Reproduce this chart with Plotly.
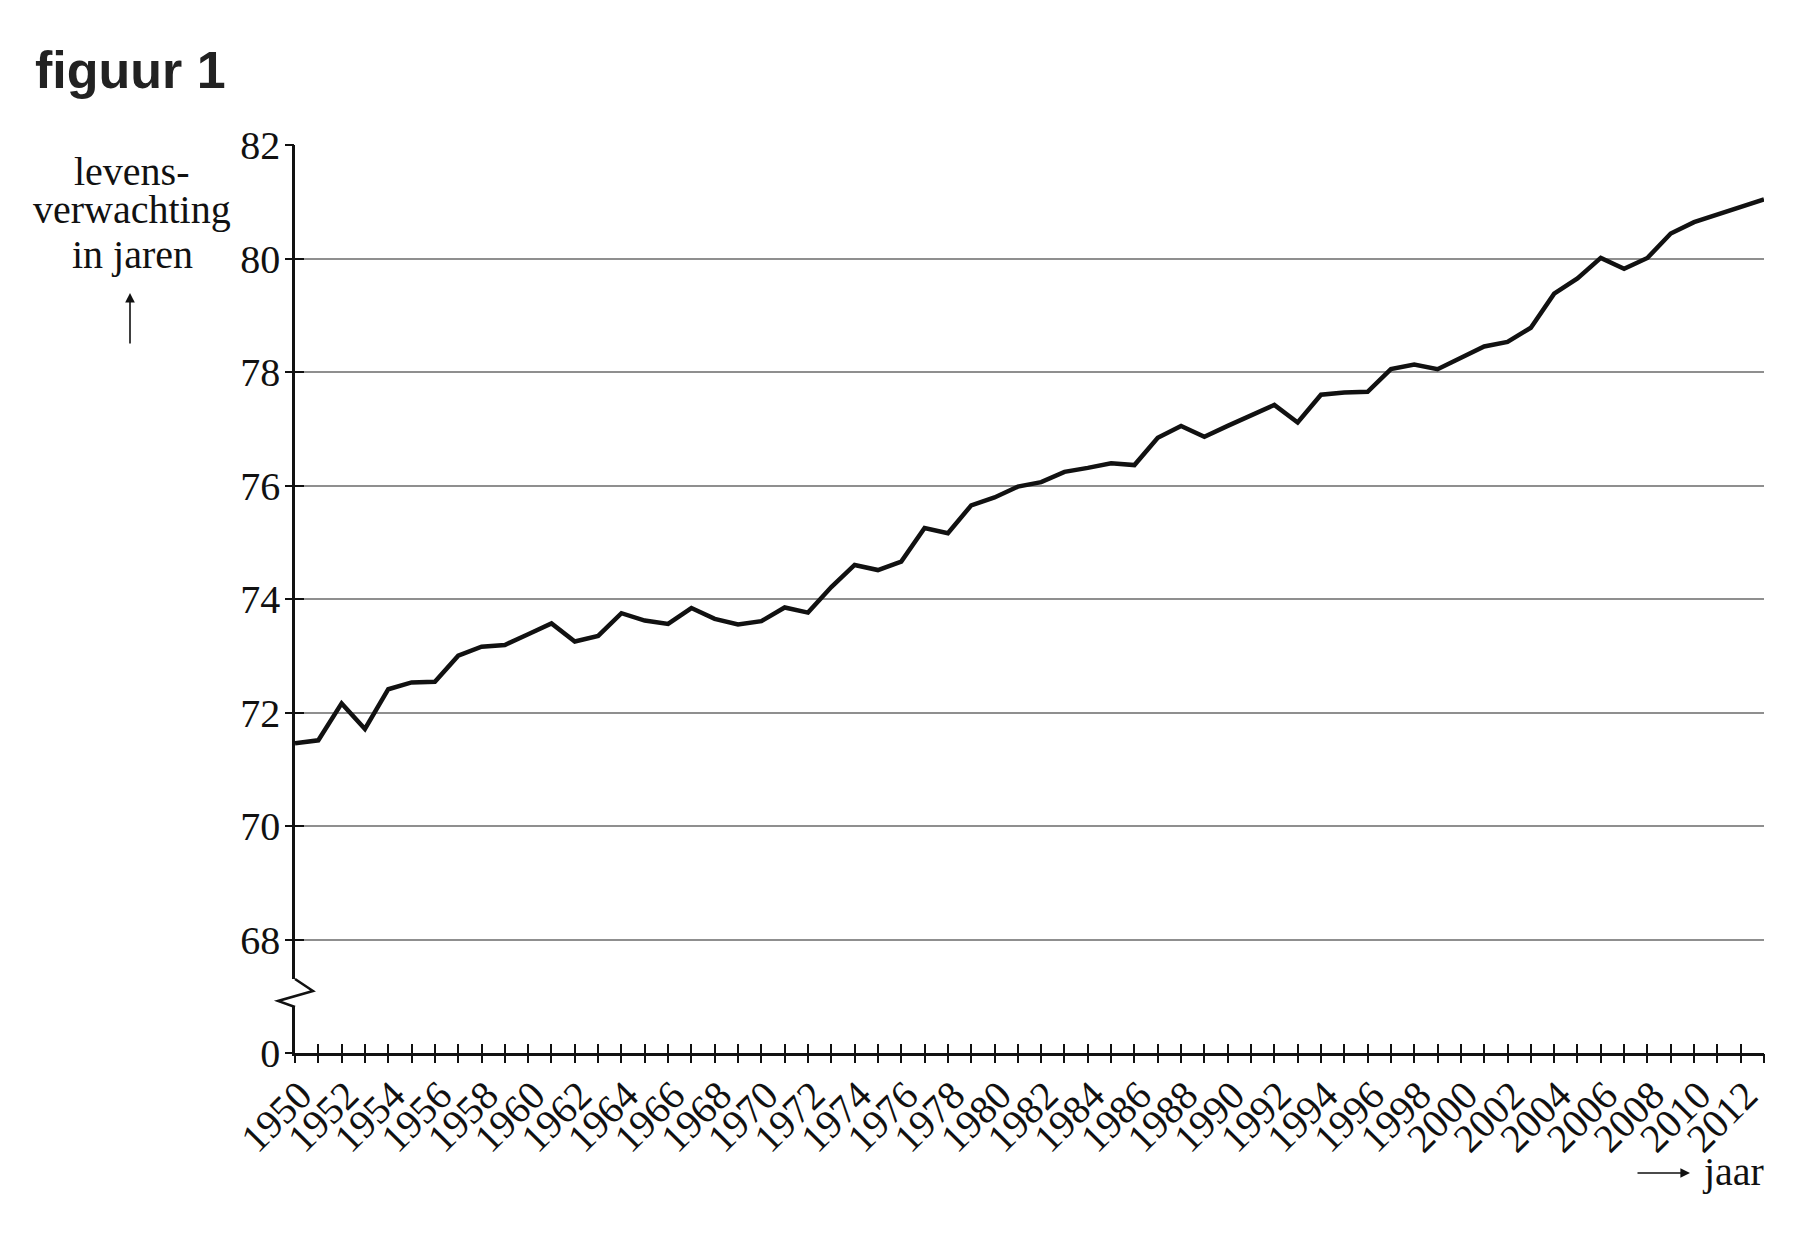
import plotly.graph_objects as go

years = list(range(1950, 2014))
life_expectancy = [
    71.46, 71.51, 72.16, 71.71, 72.41, 72.53, 72.54, 73.00, 73.16, 73.19,
    73.38, 73.57, 73.25, 73.35, 73.75, 73.62, 73.56, 73.84, 73.65, 73.55,
    73.61, 73.85, 73.76, 74.21, 74.60, 74.51, 74.66, 75.25, 75.16, 75.65,
    75.79, 75.98, 76.06, 76.24, 76.31, 76.39, 76.36, 76.84, 77.05, 76.86,
    77.05, 77.23, 77.42, 77.11, 77.60, 77.64, 77.65, 78.05, 78.13, 78.05,
    78.24, 78.45, 78.53, 78.78, 79.38, 79.65, 80.01, 79.82, 80.01, 80.44,
    80.64, 80.78, 80.91, 81.04,
]
x_labels = [str(y) if y % 2 == 0 and y <= 2012 else '' for y in years]

# y-as met onderbreking: 0 staat net onder 68
y_break_pos = 66.0
y_tickvals = [y_break_pos, 68, 70, 72, 74, 76, 78, 80, 82]
y_ticktext = ['0', '68', '70', '72', '74', '76', '78', '80', '82']

# de pagina heeft 8px body-marge; alles hieronder in paginapixels
OFF = 8
PAGE_W, PAGE_H = 1802, 1252
W, H = PAGE_W - OFF, PAGE_H - OFF
L, R, T, B = 295, 1764, 145, 1053


def px(x):
    return (x - L) / (R - L)


def py(y):
    return (B - y) / (B - T)


SERIF = 'Liberation Serif, Times New Roman, serif'
fs = 40
INK = '#111111'

fig = go.Figure()
fig.add_trace(go.Scatter(x=years, y=life_expectancy, mode='lines', line=dict(color=INK, width=4.5), hoverinfo='skip', showlegend=False))
# onzichtbare trace voor de overlay-assen (ticks aan beide kanten van de as)
fig.add_trace(go.Scatter(x=years, y=life_expectancy, xaxis='x2', yaxis='y2', mode='lines', line=dict(width=0), opacity=0, hoverinfo='skip', showlegend=False))

xrange = [1950, 2013]
yrange = [y_break_pos, 82]

fig.update_layout(
    width=W, height=H,
    margin=dict(l=L - OFF, r=PAGE_W - R, t=T - OFF, b=PAGE_H - B),
    paper_bgcolor='white', plot_bgcolor='white',
    font=dict(family=SERIF, size=fs, color=INK),
    xaxis=dict(
        range=xrange, tickmode='array', tickvals=years, ticktext=x_labels, tickangle=-45,
        ticks='inside', ticklen=9, tickwidth=2, tickcolor=INK, ticklabelstandoff=0, ticklabelshift=5,
        showline=True, linecolor=INK, linewidth=2.5,
        showgrid=False, zeroline=False, tickfont=dict(family=SERIF, size=fs),
    ),
    xaxis2=dict(
        range=xrange, overlaying='x', anchor='y', side='bottom', tickmode='array', tickvals=years,
        ticks='outside', ticklen=9, tickwidth=2, tickcolor=INK,
        showticklabels=False, showgrid=False, zeroline=False, showline=False,
    ),
    yaxis=dict(
        range=yrange, tickmode='array', tickvals=y_tickvals, ticktext=y_ticktext,
        ticks='inside', ticklen=9, tickwidth=2, tickcolor=INK, ticklabelstandoff=4,
        showline=True, linecolor=INK, linewidth=2.5,
        showgrid=True, gridcolor='#8f8f8f', gridwidth=1.5, zeroline=False,
        tickfont=dict(family=SERIF, size=fs),
    ),
    yaxis2=dict(
        range=yrange, overlaying='y', anchor='x', side='left', tickmode='array', tickvals=y_tickvals,
        ticks='outside', ticklen=9, tickwidth=2, tickcolor=INK,
        showticklabels=False, showgrid=False, zeroline=False, showline=False,
    ),
)

# onderbrekingsteken op de y-as
fig.add_shape(type='line', xref='paper', yref='paper', x0=px(295), x1=px(295), y0=py(979), y1=py(1007),
              line=dict(color='white', width=6), layer='above')
zig = [(295, 979), (313, 991), (278, 1001), (295, 1007)]
path = 'M ' + ' L '.join(f'{px(a):.5f},{py(b):.5f}' for a, b in zig)
fig.add_shape(type='path', xref='paper', yref='paper', path=path, line=dict(color=INK, width=2.5), layer='above')

fig.add_annotation(text='<b>figuur 1</b>', xref='paper', yref='paper', x=px(33), y=py(70), xanchor='left', yanchor='middle',
                   showarrow=False, font=dict(family='Liberation Sans, Arial, sans-serif', size=52, color='#222222'))
for line, ymid in [('levens-', 171), ('verwachting', 210), ('in jaren', 254)]:
    fig.add_annotation(text=line, xref='paper', yref='paper', x=px(132), y=py(ymid),
                       xanchor='center', yanchor='middle', showarrow=False, font=dict(family=SERIF, size=fs))
fig.add_annotation(text='', xref='paper', yref='paper', x=px(130), y=py(293), ax=0, ay=52,
                   showarrow=True, arrowhead=2, arrowsize=1.2, arrowwidth=1.6, arrowcolor=INK)
fig.add_annotation(text='jaar', xref='paper', yref='paper', x=px(1766), y=py(1171), xanchor='right', yanchor='middle',
                   showarrow=False, font=dict(family=SERIF, size=fs))
fig.add_annotation(text='', xref='paper', yref='paper', x=px(1690), y=py(1173), ax=-54, ay=0,
                   showarrow=True, arrowhead=2, arrowsize=1.2, arrowwidth=1.6, arrowcolor=INK)

fig.write_html('out.html')
